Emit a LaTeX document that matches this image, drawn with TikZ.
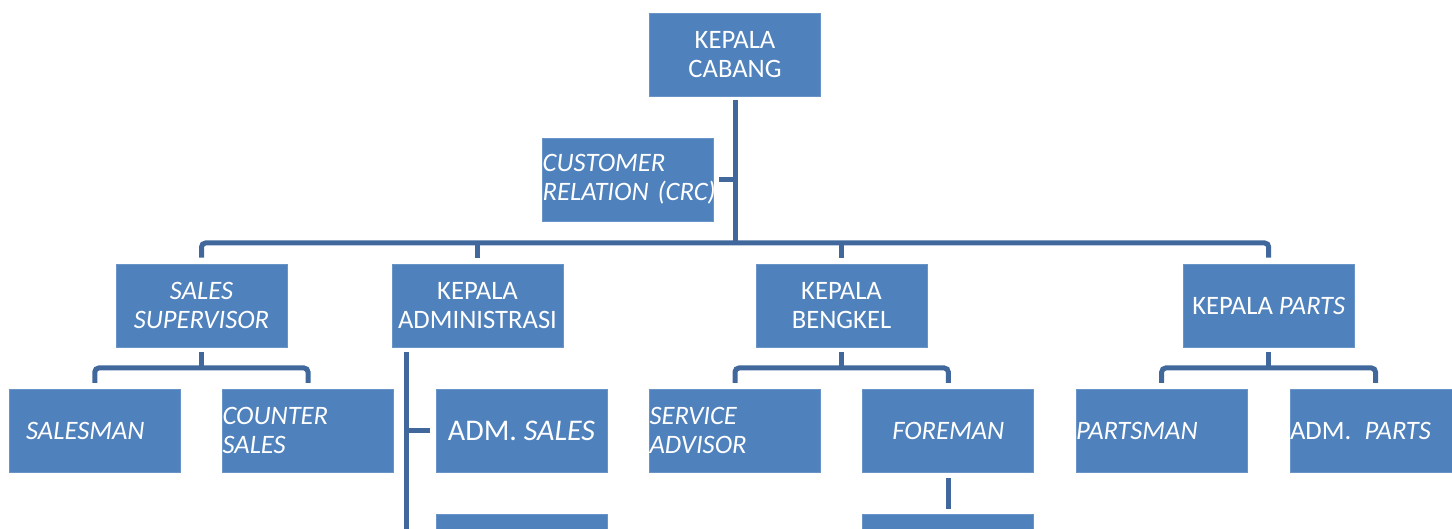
\documentclass[tikz,border=0pt]{standalone}
\usepackage{fontspec}
\setmainfont{Carlito}
\definecolor{boxblue}{HTML}{4F81BD}
\definecolor{linkblue}{RGB}{64,104,156}
\begin{document}
\begin{tikzpicture}[x=0.5pt,y=-0.5pt,
  box/.style={fill=boxblue, draw=boxblue!85!white, line width=0.4pt, text=white,
    minimum width=85.5pt, minimum height=41.5pt, inner sep=0pt,
    font=\fontsize{13.3}{14.5}\selectfont, align=center},
  leftbox/.style={box, text width=85.5pt, align=left},
  conn/.style={draw=linkblue, line width=2.5pt},
  tree/.style={conn, rounded corners=2pt}]
\useasboundingbox (0,0) rectangle (1452,529);
\clip (0,0) rectangle (1452,529);

% top level
\node[box] (cabang) at (735,54.5) {KEPALA\\CABANG};
\node[leftbox] (crc) at (628.2,179.7) {\itshape CUSTOMER\\\mbox{\itshape RELATION (CRC)}};

% second level
\node[box] (sup) at (201.5,305.5) {\itshape SALES\\\itshape SUPERVISOR};
\node[box] (adm) at (477.5,305.5) {KEPALA\\ADMINISTRASI};
\node[box] (bengkel) at (841.5,305.5) {KEPALA\\BENGKEL};
\node[box] (parts) at (1268.7,305.5) {KEPALA \textit{PARTS}};

% third level
\node[leftbox] (salesman) at (94.8,430.7) {\hspace*{8.4pt}\itshape SALESMAN};
\node[leftbox] (counter) at (308,430.7) {\itshape COUNTER\\\itshape SALES};
\node[box, font=\fontsize{15}{17}\selectfont] (admsales) at (521.5,430.7) {ADM. \textit{SALES}};
\node[leftbox] (service) at (735,430.7) {\itshape SERVICE\\\itshape ADVISOR};
\node[box] (foreman) at (948.3,430.7) {\itshape FOREMAN};
\node[leftbox] (partsman) at (1161.7,430.7) {\itshape PARTSMAN};
\node[leftbox] (admparts) at (1375.5,430.7) {ADM.\hspace{0.5em}\textit{PARTS}};

% fourth level
\node[box] (admlow) at (521.5,555.5) {};
\node[box] (foremanlow) at (948.3,555.5) {};

% main bus
\coordinate (bus) at (735,243);
\draw[conn] ([yshift=-2pt]cabang.south) -- (bus);
\draw[conn] ([xshift=2.6pt]crc.east) -- (crc.east -| cabang.south);
\draw[tree] ([yshift=3pt]sup.north) |- (bus) -| ([yshift=3pt]parts.north);
\draw[conn] ([yshift=3pt]adm.north) -- (adm.north |- bus);
\draw[conn] ([yshift=3pt]bengkel.north) -- (bengkel.north |- bus);

% sales supervisor branch
\coordinate (supbus) at (201.5,368);
\draw[conn] ([yshift=-2.5pt]sup.south) -- (supbus);
\draw[tree] ([yshift=3pt]salesman.north) |- (supbus) -| ([yshift=3pt]counter.north);

% administration branch
\coordinate (admtop) at (406.7,352);
\coordinate (admend) at (406.7,545);
\draw[conn] (admtop) -- (admend);
\draw[conn] (admsales.west -| admtop) -- ([xshift=-2.6pt]admsales.west);

% workshop branch
\coordinate (bengbus) at (841.5,368);
\draw[conn] ([yshift=-2.5pt]bengkel.south) -- (bengbus);
\draw[tree] ([yshift=3pt]service.north) |- (bengbus) -| ([yshift=3pt]foreman.north);
\draw[conn] ([yshift=-2.5pt]foreman.south) -- ([yshift=2.5pt]foremanlow.north);

% parts branch
\coordinate (partbus) at (1268.7,368);
\draw[conn] ([yshift=-2.5pt]parts.south) -- (partbus);
\draw[tree] ([yshift=3pt]partsman.north) |- (partbus) -| ([yshift=3pt]admparts.north);
\end{tikzpicture}
\end{document}
